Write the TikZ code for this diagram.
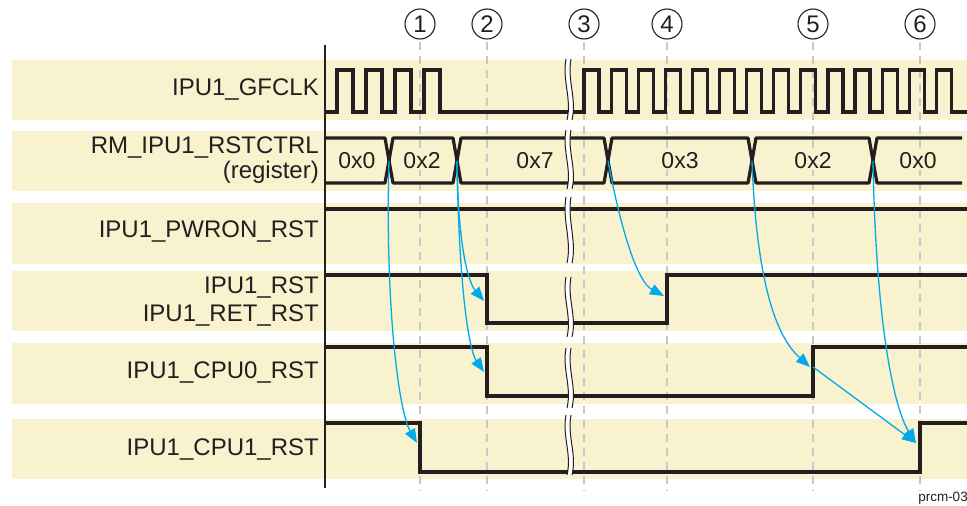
\documentclass[tikz,border=0pt]{standalone}
\usepackage{fontspec}
\setmainfont{Liberation Sans}
\usepackage{xcolor}
\usetikzlibrary{arrows.meta,positioning,calc}

\definecolor{bandfill}{RGB}{249,242,206}
\definecolor{tiblue}{RGB}{0,170,235}
\definecolor{gridgray}{RGB}{200,200,200}
\definecolor{inkblack}{RGB}{35,31,32}

\newcommand{\sigbreak}[2]{%
  \fill[white] (566,#1) .. controls (562,{#1+0.35*(#2-#1)}) and (572,{#1+0.65*(#2-#1)}) .. (567,#2)
    -- (572,#2) .. controls (577,{#1+0.65*(#2-#1)}) and (567,{#1+0.35*(#2-#1)}) .. (571,#1) -- cycle;
  \draw[inkblack, line width=1pt] (566,#1) .. controls (562,{#1+0.35*(#2-#1)}) and (572,{#1+0.65*(#2-#1)}) .. (567,#2);
  \draw[inkblack, line width=1pt] (571,#1) .. controls (567,{#1+0.35*(#2-#1)}) and (577,{#1+0.65*(#2-#1)}) .. (572,#2);
}

\begin{document}
\begin{tikzpicture}[
  x=1pt, y=-1pt,
  >={Triangle[length=14pt,width=11pt]},
  bandbox/.style={fill=bandfill, draw=none},
  sigline/.style={inkblack, line width=3.2pt},
  busline/.style={inkblack, line width=3.2pt, line join=round},
  gridline/.style={gridgray, line width=1.2pt, dash pattern=on 8pt off 6pt},
  stepnum/.style={draw=inkblack, circle, minimum size=30pt, inner sep=0pt, line width=1.1pt, text=inkblack, font=\fontsize{24}{26}\selectfont},
  lbl/.style={anchor=east, align=right, inner sep=0pt, text=inkblack, font=\fontsize{24}{25}\selectfont},
  hexval/.style={fill=bandfill, inner sep=1pt, text=inkblack, font=\fontsize{23}{24}\selectfont},
  cause/.style={->, tiblue, line width=1.3pt}
]
\useasboundingbox (0,0) rectangle (967,506);

\foreach \t/\b in {60/120,131/191,203/264,271/331,343/404,419/479}
  \fill[bandbox] (12,\t) rectangle (967,\b);

\node[stepnum] (s1) at (420,24) {1};
\node[stepnum] (s2) at (487,24) {2};
\node[stepnum] (s3) at (584,24) {3};
\node[stepnum] (s4) at (667,24) {4};
\node[stepnum] (s5) at (813,24) {5};
\node[stepnum] (s6) at (920,24) {6};
\foreach \i in {1,...,6}
  \draw[gridline] (s\i.south) ++(0,2) -- ++(0,449);

\draw[inkblack, line width=1.6pt] (325,45) -- (325,488);

\node[lbl] (gfclk) at (319,90) {IPU1\_GFCLK};
\node[lbl] (rstctrl) at (319,160) {RM\_IPU1\_RSTCTRL\\(register)};
\node[lbl] (pwron) at (319,232) {IPU1\_PWRON\_RST};
\node[lbl] (rst) at (319,302) {IPU1\_RST\\[3pt]IPU1\_RET\_RST};
\node[lbl] (cpu0) at (319,373) {IPU1\_CPU0\_RST};
\node[lbl] (cpu1) at (319,450) {IPU1\_CPU1\_RST};

\draw[sigline] (325,112) foreach \x in {337,366,395,424} { -- (\x,112) -- (\x,70) -- (\x+16,70) -- (\x+16,112) }
  -- (584,112) foreach \k in {0,...,13} { -- ({584+27.1*\k},112) -- ({584+27.1*\k},70) -- ({599+27.1*\k},70) -- ({599+27.1*\k},112) }
  -- (967,112);

\draw[busline] (325,138) -- (385,138) -- (393,183) -- (453,183) -- (461,138) -- (604,138) -- (612,183)
  -- (748,183) -- (756,138) -- (869,138) -- (877,183) -- (962,183);
\draw[busline] (325,183) -- (385,183) -- (393,138) -- (453,138) -- (461,183) -- (604,183) -- (612,138)
  -- (748,138) -- (756,183) -- (869,183) -- (877,138) -- (962,138);

\draw[sigline] (325,209) -- (967,209);
\draw[sigline] (325,275) -- (487,275) -- (487,323) -- (667,323) -- (667,275) -- (967,275);
\draw[sigline] (325,347) -- (487,347) -- (487,396) -- (813,396) -- (813,347) -- (967,347);
\draw[sigline] (325,423) -- (420,423) -- (420,472) -- (920,472) -- (920,423) -- (967,423);

\sigbreak{59}{120}
\sigbreak{130}{189}
\sigbreak{197}{263}
\sigbreak{277}{337}
\sigbreak{348}{408}
\sigbreak{415}{475}

\node[hexval] (v1) at (357,161) {0x0};
\node[hexval] (v2) at (422,161) {0x2};
\node[hexval] (v3) at (535,161) {0x7};
\node[hexval] (v4) at (680,161) {0x3};
\node[hexval] (v5) at (813,161) {0x2};
\node[hexval] (v6) at (918,161) {0x0};

\coordinate (x1) at (389,161);
\coordinate (x2) at (457,161);
\coordinate (x3) at (608,161);
\coordinate (x4) at (752,161);
\coordinate (x5) at (873,161);
\coordinate (e1) at (417,443);
\coordinate (e2) at (484,301);
\coordinate (e3) at (484,372);
\coordinate (e4) at (664,296);
\coordinate (e5) at (810,367);
\coordinate (e6) at (916,443);
\coordinate (r5) at (813,367);

\draw[cause] (x1) .. controls (385,300) and (398,410) .. (e1);
\draw[cause] (x2) .. controls (458,250) and (469,283) .. (e2);
\draw[cause] (x2) .. controls (459,290) and (469,350) .. (e3);
\draw[cause] (x3) .. controls (622,235) and (638,282) .. (e4);
\draw[cause] (x4) .. controls (757,295) and (780,340) .. (e5);
\draw[cause] (x5) .. controls (876,330) and (895,410) .. (e6);
\draw[cause] (r5) -- (e6);

\node[text=inkblack, font=\fontsize{13.5}{15}\selectfont] (figid) at (943,498) {prcm-03};
\end{tikzpicture}
\end{document}
